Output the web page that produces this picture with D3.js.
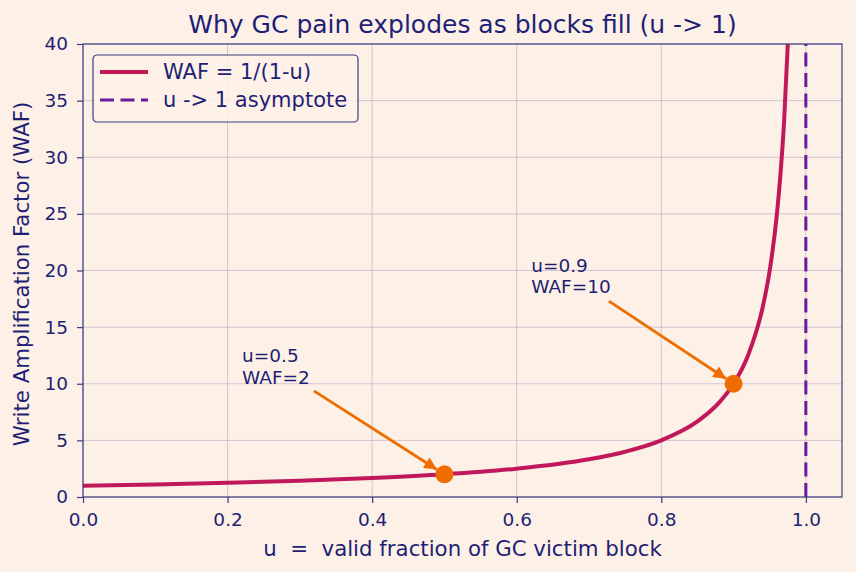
<!DOCTYPE html>
<html>
<head>
<meta charset="utf-8">
<script src="https://cdn.jsdelivr.net/npm/d3@7"></script>
<style>
  body { margin: 0; background: #fdf1e7; }
  svg { display: block; font-family: "DejaVu Sans", sans-serif; }
</style>
</head>
<body>
<div id="chart"></div>
<script>
// values
var uValues   = [0, 0.1, 0.2, 0.3, 0.4, 0.5, 0.6, 0.7, 0.75, 0.8, 0.85, 0.88, 0.9, 0.92, 0.94, 0.95, 0.96, 0.965, 0.97, 0.975];
var wafValues = [1, 1.11, 1.25, 1.43, 1.67, 2, 2.5, 3.33, 4, 5, 6.67, 8.33, 10, 12.5, 16.67, 20, 25, 28.6, 33.3, 40];
var xTicks = [0, 0.2, 0.4, 0.6, 0.8, 1.0];
var yTicks = [0, 5, 10, 15, 20, 25, 30, 35, 40];
var markU = [0.5, 0.9];
var markWaf = [2, 10];
var noteLines = [["u=0.5", "WAF=2"], ["u=0.9", "WAF=10"]];
var noteU = [0.22, 0.62];
var noteWaf = [10, 18];
var asymptoteU = 1.0;

var W = 856, H = 572;
var margin = {top: 44, right: 14, bottom: 75, left: 83};
var textColor = "#1f1f75";
var spineColor = "#3c3c80";

var svg = d3.select("#chart").append("svg")
    .attr("width", W).attr("height", H);
svg.append("rect").attr("width", W).attr("height", H).attr("fill", "#fdf1e7");

var x = d3.scaleLinear().domain([0, 1.05]).range([margin.left, W - margin.right]);
var y = d3.scaleLinear().domain([0, 40]).range([H - margin.bottom, margin.top]);

svg.append("defs").append("clipPath").attr("id", "plotclip")
  .append("rect")
    .attr("x", margin.left).attr("y", margin.top)
    .attr("width", x(1.05) - x(0)).attr("height", y(0) - y(40));

//gridlines
var grid = svg.append("g");
grid.selectAll(".gx").data(xTicks).enter().append("line")
    .attr("x1", d => x(d)).attr("x2", d => x(d))
    .attr("y1", y(0)).attr("y2", y(40))
    .attr("stroke", "#7a5a9a").attr("stroke-opacity", 0.3).attr("stroke-width", 1);
grid.selectAll(".gy").data(yTicks).enter().append("line")
    .attr("x1", x(0)).attr("x2", x(1.05))
    .attr("y1", d => y(d)).attr("y2", d => y(d))
    .attr("stroke", "#7a5a9a").attr("stroke-opacity", 0.3).attr("stroke-width", 1);

var plot = svg.append("g").attr("clip-path", "url(#plotclip)");

var pts = uValues.map(function(u, i){ return [u, wafValues[i]]; });
var line = d3.line().x(d => x(d[0])).y(d => y(d[1])).curve(d3.curveMonotoneX);

plot.append("path").datum(pts)
    .attr("d", line)
    .attr("fill", "none")
    .attr("stroke", "#c2185b")
    .attr("stroke-width", 4);

plot.append("line")
    .attr("x1", x(asymptoteU)).attr("x2", x(asymptoteU))
    .attr("y1", y(0)).attr("y2", y(40))
    .attr("stroke", "#6a1b9a").attr("stroke-width", 3)
    .attr("stroke-dasharray", "14,6.5");

// axes
var xAxis = svg.append("g")
    .attr("transform", "translate(0," + y(0) + ")")
    .call(d3.axisBottom(x).tickValues(xTicks).tickFormat(d3.format(".1f")).tickSizeOuter(0).tickSize(6));
var yAxis = svg.append("g")
    .attr("transform", "translate(" + x(0) + ",0)")
    .call(d3.axisLeft(y).tickValues(yTicks).tickSizeOuter(0).tickSize(6));
[xAxis, yAxis].forEach(function(a){
    a.select(".domain").remove();
    a.selectAll("line").attr("stroke", spineColor).attr("stroke-width", 1.2);
    a.selectAll("text").attr("fill", textColor).style("font-size", "18.5px")
        .style("font-family", "DejaVu Sans");
});
xAxis.selectAll("text").attr("dy", "0.71em").attr("y", 16);
yAxis.selectAll("text").attr("x", -15);

// frame
svg.append("rect")
    .attr("x", x(0)).attr("y", y(40))
    .attr("width", x(1.05) - x(0)).attr("height", y(0) - y(40))
    .attr("fill", "none").attr("stroke", spineColor).attr("stroke-width", 1.2);

// marked points
svg.selectAll(".mark").data(markU).enter().append("circle")
    .attr("cx", d => x(d)).attr("cy", (d, i) => y(markWaf[i]))
    .attr("r", 9).attr("fill", "#ef6c00");

// annotations with arrows
var defs = svg.select("defs");
defs.append("marker").attr("id", "arrowhead")
    .attr("viewBox", "0 0 10 10").attr("refX", 10).attr("refY", 5)
    .attr("markerWidth", 5).attr("markerHeight", 4.5)
    .attr("markerUnits", "strokeWidth")
    .attr("orient", "auto")
  .append("path").attr("d", "M0,0 L10,5 L0,10 z").attr("fill", "#ef6c00");

noteLines.forEach(function(lines, i){
    var tx = x(noteU[i]), ty = y(noteWaf[i]);
    var t = svg.append("text")
        .attr("x", tx).attr("y", ty)
        .attr("fill", textColor).style("font-size", "18.5px");
    t.selectAll("tspan").data(lines).enter().append("tspan")
        .attr("x", tx)
        .attr("dy", (d, j) => j === 0 ? "-1.15em" : "1.15em")
        .text(d => d);
    var bb = t.node().getBBox();
    var cx = bb.x + bb.width / 2, cy = bb.y + bb.height / 2;
    var px = x(markU[i]), py = y(markWaf[i]);
    var dx = px - cx, dy = py - cy;
    var hw = bb.width / 2 + 4, hh = bb.height / 2 + 4;
    var s = Math.min(hw / Math.abs(dx), hh / Math.abs(dy));
    var sx = cx + dx * s, sy = cy + dy * s;
    var len = Math.sqrt((px - sx) * (px - sx) + (py - sy) * (py - sy));
    var ex = px - (px - sx) / len * 9, ey = py - (py - sy) / len * 9;
    svg.append("line")
        .attr("x1", sx).attr("y1", sy).attr("x2", ex).attr("y2", ey)
        .attr("stroke", "#ef6c00").attr("stroke-width", 2.8)
        .attr("marker-end", "url(#arrowhead)");
});

// title and axis labels
svg.append("text")
    .attr("x", (x(0) + x(1.05)) / 2).attr("y", 33)
    .attr("text-anchor", "middle").attr("fill", textColor)
    .style("font-size", "25px")
    .text("Why GC pain explodes as blocks fill (u -> 1)");
svg.append("text")
    .attr("x", (x(0) + x(1.05)) / 2).attr("y", 556)
    .attr("text-anchor", "middle").attr("fill", textColor)
    .style("font-size", "21.3px").style("white-space", "pre")
    .text("u  =  valid fraction of GC victim block");
svg.append("text")
    .attr("transform", "translate(29,274) rotate(-90)")
    .attr("text-anchor", "middle").attr("fill", textColor)
    .style("font-size", "21.3px")
    .text("Write Amplification Factor (WAF)");

// legend
var lg = svg.append("g").attr("transform", "translate(93,55)");
lg.append("rect").attr("width", 265).attr("height", 67).attr("rx", 4)
    .attr("fill", "#fdf1e7").attr("fill-opacity", 0.85)
    .attr("stroke", spineColor).attr("stroke-width", 1.2);
var legendItems = [
    {label: "WAF = 1/(1-u)", color: "#c2185b", dash: null, w: 4},
    {label: "u -> 1 asymptote", color: "#6a1b9a", dash: "14,6.5", w: 3}
];
legendItems.forEach(function(it, i){
    var yy = 17 + i * 28;
    lg.append("line").attr("x1", 7).attr("x2", 55).attr("y1", yy).attr("y2", yy)
        .attr("stroke", it.color).attr("stroke-width", it.w)
        .attr("stroke-dasharray", it.dash);
    lg.append("text").attr("x", 70).attr("y", yy + 7)
        .attr("fill", textColor).style("font-size", "21px").text(it.label);
});
</script>
</body>
</html>
